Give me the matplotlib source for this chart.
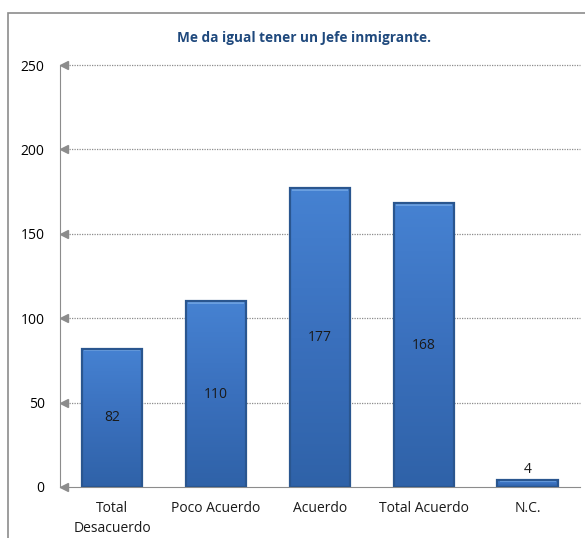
import numpy as np
import matplotlib
matplotlib.use("Agg")
from matplotlib import pyplot as plt
from matplotlib.patches import Rectangle
from matplotlib.colors import LinearSegmentedColormap

plt.rcParams['font.family'] = ['Open Sans', 'DejaVu Sans']

# Data
categories = ['Total\nDesacuerdo', 'Poco Acuerdo', 'Acuerdo', 'Total Acuerdo', 'N.C.']
values = [82, 110, 177, 168, 4]
yticks = [0, 50, 100, 150, 200, 250]
title = 'Me da igual tener un Jefe inmigrante.'

fig = plt.figure(figsize=(5.85, 5.38), dpi=100)
ax = fig.add_axes([0.1026, 0.095, 0.888, 0.784])

# outer frame
fig.patches.append(Rectangle((8 / 585, -0.1), 1.2, 1.076, transform=fig.transFigure,
                             fill=False, edgecolor='#8c8c8c', linewidth=1.2))

x = np.arange(len(values))
bars = ax.bar(x, values, width=0.58, color='#3d74c4', edgecolor='none', zorder=3)

# vertical gradient on bars
cmap = LinearSegmentedColormap.from_list('blu', ['#2f62a8', '#3a70bd', '#4682d2'])
grad = np.linspace(0, 1, 256).reshape(-1, 1)
for b in bars:
    x0, y0 = b.get_x(), b.get_y()
    w, h = b.get_width(), b.get_height()
    im = ax.imshow(grad, extent=[x0, x0 + w, y0, y0 + h], origin='lower', cmap=cmap,
                   aspect='auto', zorder=3.5)
    im.set_clip_path(b)
    # bevel outline
    ax.add_patch(Rectangle((x0, y0), w, h, facecolor='none', edgecolor='#2a568f',
                           linewidth=1.6, zorder=3.7))
    ax.add_patch(Rectangle((x0 + 0.02, y0 + h - min(1.5, h * 0.3)), w - 0.04, min(1.2, h * 0.3),
                           facecolor='#6a9fe0', edgecolor='none', zorder=3.6))

for xi, v in zip(x, values):
    if v > 20:
        ax.text(xi, v / 2, str(v), ha='center', va='center', fontsize=10, color='#1a1a1a', zorder=5)
    else:
        ax.text(xi, v + 2, str(v), ha='center', va='bottom', fontsize=10, color='#1a1a1a', zorder=5)

ax.set_xlim(-0.5, len(values) - 0.5)
ax.set_ylim(0, 250)
ax.set_yticks(yticks)
ax.set_xticks(x)
ax.set_xticklabels(categories, fontsize=10, color='#1a1a1a', linespacing=1.45)
ax.tick_params(axis='both', length=0, labelsize=10)
ax.tick_params(axis='y', pad=11)
ax.tick_params(axis='x', pad=10)

# dotted gridlines with arrow heads
for t in yticks[1:]:
    ax.plot([0.017, 1], [t, t], transform=ax.get_yaxis_transform(), color='#8c8c8c',
            linestyle=(0, (1, 1)), linewidth=0.9, zorder=1, clip_on=False)
ax.plot([0.008] * len(yticks), yticks, transform=ax.get_yaxis_transform(), marker='<',
        markersize=6, color='#8c8c8c', linestyle='none', clip_on=False, zorder=2)

for s in ['top', 'right']:
    ax.spines[s].set_visible(False)
ax.spines['left'].set_color('#8c8c8c')
ax.spines['bottom'].set_color('#8c8c8c')

fig.text(0.52, 0.929, title, ha='center', va='center', fontsize=9.8, fontweight='bold', color='#1f497d')

fig.savefig('out.png', dpi=100)
